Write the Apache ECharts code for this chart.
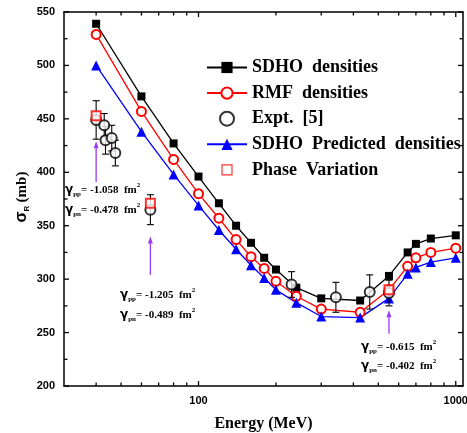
<!DOCTYPE html>
<html>
<head>
<meta charset="utf-8">
<script src="https://cdn.jsdelivr.net/npm/echarts@6.0.0/dist/echarts.min.js"></script>
<style>
  html, body { margin: 0; padding: 0; background: #fff; }
  #main { width: 467px; height: 433px; }
</style>
</head>
<body>
<div id="main"></div>
<script>
// 计算结果 (能量 MeV)
var energyCalc = [40, 60, 80, 100, 120, 140, 160, 180, 200, 240, 300, 425, 550, 650, 700, 800, 1000];
var sdhoVals = [539, 471, 427, 396, 371, 350, 334, 320, 309, 292, 282, 280, 303, 325, 333, 338, 341];
var rmfVals = [529, 457, 412, 380, 357, 337, 321, 310, 298, 284, 272, 269, 290, 312, 320, 325, 329];
var predVals = [500, 438, 398, 369, 346, 328, 313, 301, 290, 278, 265, 264, 282, 305, 311, 316, 320];

// 实验值 + 误差
var expEnergy = [40, 43, 43.5, 46, 47.5, 65, 230, 342, 463, 550];
var expVals = [449, 444, 430, 432, 418, 365, 295, 283, 288, 287];
var expErr = [18, 11, 13, 12, 12, 14, 12, 14, 16, 12];

// 相位变化
var phaseEnergy = [40, 65, 550];
var phaseVals = [453, 371, 290];

// 箭头 (起点 -> 终点)
var arrowEnergy = [40, 65, 550];
var arrowFrom = [391, 304, 249];
var arrowTo = [429, 340, 271];

// 刻度
var xMajorTicks = [100, 1000];
var xMinorTicks = [40, 50, 60, 70, 80, 90, 200, 300, 400, 500, 600, 700, 800, 900];
var yMajorTicks = [200, 250, 300, 350, 400, 450, 500, 550];
var yMinorTicks = [225, 275, 325, 375, 425, 475, 525];

var X_MIN = 30, X_MAX = 1067, Y_MIN = 200, Y_MAX = 550;

var serif = "'Liberation Serif', 'Times New Roman', serif";
var sans = "'Liberation Sans', Arial, sans-serif";

function pairs(xs, ys) {
  return xs.map(function (x, i) { return [x, ys[i]]; });
}

var errData = expEnergy.map(function (x, i) {
  return [x, expVals[i] - expErr[i], expVals[i] + expErr[i]];
});
var arrowData = arrowEnergy.map(function (x, i) {
  return [x, arrowFrom[i], arrowTo[i]];
});
// 刻度数据: [x, y, 长度]
var xTickData = xMajorTicks.map(function (v) { return [v, Y_MIN, 5]; })
  .concat(xMinorTicks.map(function (v) { return [v, Y_MIN, 3.5]; }));
var yTickData = yMajorTicks.map(function (v) { return [X_MIN, v, 5]; })
  .concat(yMinorTicks.map(function (v) { return [X_MIN, v, 3.5]; }));

function gammaText(sub, val) {
  return '{g|γ}{s|' + sub + '}{t|= ' + val + '  fm}{p|2}';
}
var gammaRich = {
  g: { fontSize: 12, fontWeight: 'bold', fontFamily: 'DejaVu Sans', lineHeight: 16 },
  s: { fontSize: 7, fontWeight: 'bold', fontFamily: serif, verticalAlign: 'bottom' },
  t: { fontSize: 11, fontWeight: 'bold', fontFamily: serif, lineHeight: 16 },
  p: { fontSize: 7, fontWeight: 'bold', fontFamily: serif, verticalAlign: 'top' }
};
function note(x, y, sub, val) {
  return { type: 'text', x: x, y: y, style: { text: gammaText(sub, val), rich: gammaRich, verticalAlign: 'middle', fill: '#000' } };
}

function logFrame(pos) {
  return {
    type: 'log', min: X_MIN, max: X_MAX, position: pos,
    axisLine: { show: true, lineStyle: { color: '#000', width: 1.5 } },
    axisTick: { show: false },
    axisLabel: {
      show: pos === 'bottom', customValues: xMajorTicks, color: '#000', fontSize: 11,
      fontWeight: 'bold', fontFamily: sans, margin: 9,
      formatter: function (v) { return String(Math.round(v)); }
    },
    splitLine: { show: false }
  };
}
function valFrame(pos) {
  return {
    type: 'value', min: Y_MIN, max: Y_MAX, interval: 50, position: pos,
    axisLine: { show: true, lineStyle: { color: '#000', width: 1.5 } },
    axisTick: { show: false },
    axisLabel: { show: pos === 'left', color: '#000', fontSize: 11, fontWeight: 'bold', fontFamily: sans, margin: 9 },
    splitLine: { show: false }
  };
}

var myChart = echarts.init(document.getElementById('main'));
var bottomAxis = logFrame('bottom');
bottomAxis.name = 'Energy (MeV)';
bottomAxis.nameLocation = 'middle';
bottomAxis.nameGap = 30;
bottomAxis.nameTextStyle = { fontSize: 16, fontWeight: 'bold', fontFamily: serif, color: '#000' };

// 刻度线 (朝内, 上下/左右都画)
function renderTick(isX) {
  return function (params, api) {
    var lb = api.coord([X_MIN, Y_MIN]);
    var rt = api.coord([X_MAX, Y_MAX]);
    var p = api.coord([api.value(0), api.value(1)]);
    var len = api.value(2);
    var st = { stroke: '#000', lineWidth: 1.3 };
    var lines = isX ? [
      { x1: p[0], y1: lb[1], x2: p[0], y2: lb[1] - len },
      { x1: p[0], y1: rt[1], x2: p[0], y2: rt[1] + len }
    ] : [
      { x1: lb[0], y1: p[1], x2: lb[0] + len, y2: p[1] },
      { x1: rt[0], y1: p[1], x2: rt[0] - len, y2: p[1] }
    ];
    return {
      type: 'group',
      children: lines.map(function (s) { return { type: 'line', shape: s, style: st }; })
    };
  };
}

var option = {
  animation: false,
  backgroundColor: '#fff',
  grid: { left: 64, right: 4, top: 12, bottom: 47, outerBoundsMode: 'none' },
  xAxis: [bottomAxis, logFrame('top')],
  yAxis: [valFrame('left'), valFrame('right')],
  legend: {
    orient: 'vertical', left: 206, top: 58.5, padding: 0,
    itemWidth: 40, itemHeight: 14, itemGap: 7.6,
    data: [
      'SDHO  densities', 'RMF  densities', 'Expt.  [5]', 'SDHO  Predicted  densities',
      {
        name: 'Phase  Variation', icon: 'path://M-2,-2L-2,-2M0,0L10,0L10,10L0,10ZM12,12L12,12',
        itemStyle: { color: '#fff', borderColor: '#ff0000', borderWidth: 1.2 }
      }
    ],
    textStyle: { fontSize: 18, fontWeight: 'bold', fontFamily: serif, color: '#000' }
  },
  graphic: [
    note(65, 190, 'pp', '-1.058'),
    note(65, 210, 'pn', '-0.478'),
    note(120, 295, 'pp', '-1.205'),
    note(120, 315, 'pn', '-0.489'),
    note(361, 347, 'pp', '-0.615'),
    note(361, 366, 'pn', '-0.402'),
    {
      type: 'text', x: 22, y: 197, rotation: Math.PI / 2,
      style: {
        text: '{a|σ}{b|R} {c|(mb)}', align: 'center', verticalAlign: 'middle',
        rich: {
          a: { fontSize: 16, fontWeight: 'bold', fontFamily: sans, lineHeight: 18 },
          b: { fontSize: 8, fontWeight: 'bold', fontFamily: sans, verticalAlign: 'bottom' },
          c: { fontSize: 15, fontWeight: 'bold', fontFamily: serif, lineHeight: 18 }
        }
      }
    }
  ],
  series: [
    {
      name: 'SDHO  densities', type: 'line', data: pairs(energyCalc, sdhoVals),
      symbol: 'rect', symbolSize: 8, z: 3,
      itemStyle: { color: '#000' }, lineStyle: { color: '#000', width: 1.3 }
    },
    {
      name: 'RMF  densities', type: 'line', data: pairs(energyCalc, rmfVals),
      symbol: 'emptyCircle', symbolSize: 9, z: 3,
      itemStyle: { color: '#ff0000', borderWidth: 1.2 }, lineStyle: { color: '#ff0000', width: 1.3 }
    },
    {
      name: 'SDHO  Predicted  densities', type: 'line', data: pairs(energyCalc, predVals),
      symbol: 'triangle', symbolSize: 10, z: 3,
      itemStyle: { color: '#0000ff' }, lineStyle: { color: '#0000ff', width: 1.3 }
    },
    {
      name: 'errbars', type: 'custom', data: errData, z: 4,
      encode: { x: 0, y: [1, 2] },
      renderItem: function (params, api) {
        var x = api.value(0);
        var lo = api.coord([x, api.value(1)]);
        var hi = api.coord([x, api.value(2)]);
        var w = 3.5;
        var st = { stroke: '#000', lineWidth: 1.1 };
        return {
          type: 'group', children: [
            { type: 'line', shape: { x1: lo[0], y1: lo[1], x2: hi[0], y2: hi[1] }, style: st },
            { type: 'line', shape: { x1: lo[0] - w, y1: lo[1], x2: lo[0] + w, y2: lo[1] }, style: st },
            { type: 'line', shape: { x1: hi[0] - w, y1: hi[1], x2: hi[0] + w, y2: hi[1] }, style: st }
          ]
        };
      }
    },
    {
      name: 'Expt.  [5]', type: 'scatter', data: pairs(expEnergy, expVals),
      symbol: 'emptyCircle', symbolSize: 10, z: 5,
      itemStyle: { color: '#000', borderWidth: 1 }
    },
    {
      name: 'Phase  Variation', type: 'scatter', data: pairs(phaseEnergy, phaseVals),
      symbol: 'emptyRect', symbolSize: 9, z: 6,
      itemStyle: { color: '#ff0000', borderWidth: 1.2 }
    },
    {
      name: 'arrows', type: 'custom', data: arrowData, z: 6,
      encode: { x: 0, y: [1, 2] },
      renderItem: function (params, api) {
        var x = api.value(0);
        var a = api.coord([x, api.value(1)]);
        var b = api.coord([x, api.value(2)]);
        var col = '#9b3cf5';
        return {
          type: 'group', children: [
            { type: 'line', shape: { x1: a[0], y1: a[1], x2: b[0], y2: b[1] + 5 }, style: { stroke: col, lineWidth: 1.3 } },
            { type: 'polygon', shape: { points: [[b[0], b[1]], [b[0] - 2.5, b[1] + 7], [b[0] + 2.5, b[1] + 7]] }, style: { fill: col } }
          ]
        };
      }
    },
    {
      name: 'xticks', type: 'custom', data: xTickData, z: 8, silent: true,
      encode: { x: 0, y: 1 }, renderItem: renderTick(true)
    },
    {
      name: 'yticks', type: 'custom', data: yTickData, z: 8, silent: true,
      encode: { x: 0, y: 1 }, renderItem: renderTick(false)
    }
  ]
};
myChart.setOption(option);
</script>
</body>
</html>
